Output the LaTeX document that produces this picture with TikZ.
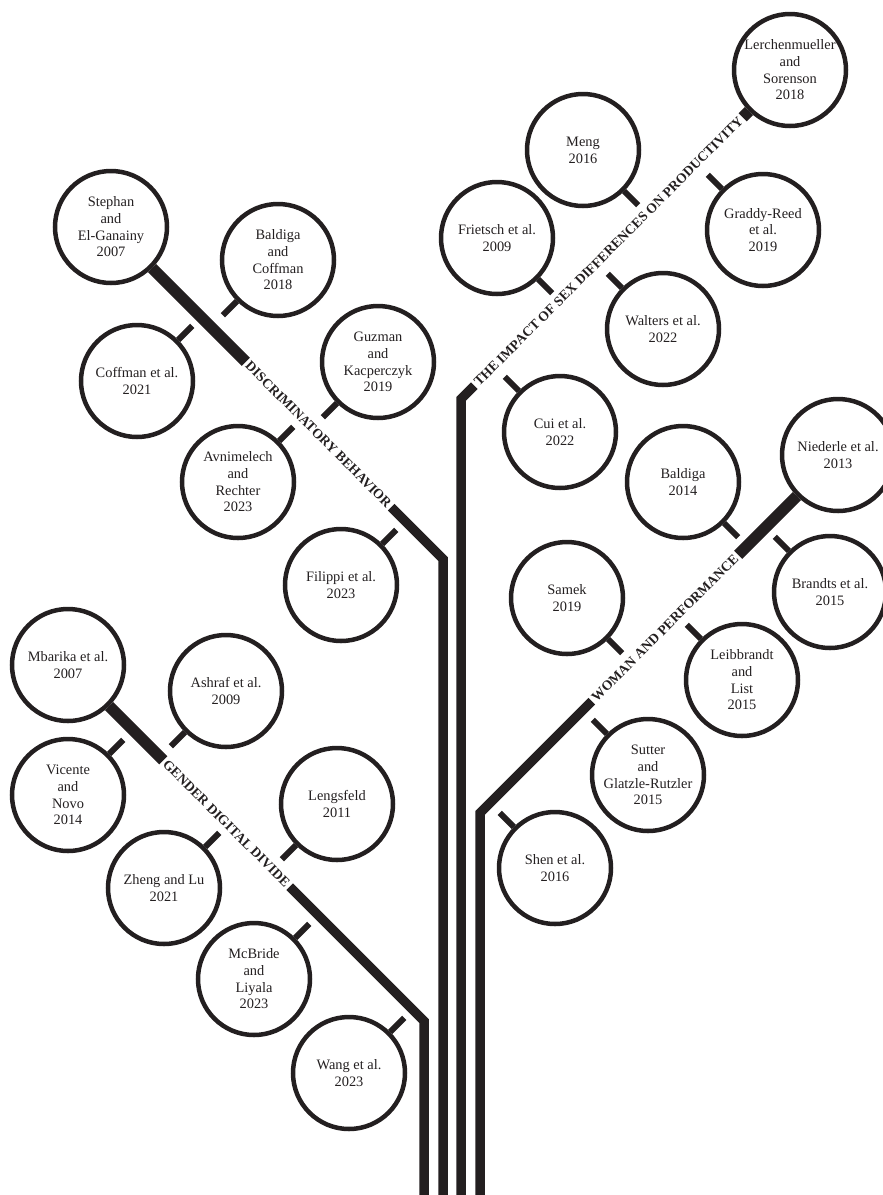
\documentclass[tikz,border=0pt]{standalone}
\usepackage{fontspec}
\setmainfont{Liberation Serif}
\definecolor{ink}{RGB}{35,31,32}
\begin{document}
\begin{tikzpicture}[x=1pt,y=-1pt,
  study/.style={circle, draw=ink, line width=4.5pt, minimum size=112pt, inner sep=0pt,
    align=center, text=ink, font=\fontsize{14.4}{16.7}\selectfont},
  stub/.style={draw=ink, line width=6pt},
  limb/.style={draw=ink, line width=11.5pt},
  trunk/.style={draw=ink, line width=9.5pt, line join=miter},
  theme/.style={font=\bfseries\fontsize{13.7}{15}\selectfont, text=ink, inner sep=2.5pt}
]
\useasboundingbox (0,0) rectangle (883,1195);
\clip (0,0) rectangle (883,1195);

% ---------- Discriminatory behavior ----------
\node[study] (stephan) at (111,227) {Stephan\\and\\El-Ganainy\\2007};
\node[study] (baldcof) at (278,260) {Baldiga\\and\\Coffman\\2018};
\node[study] (cofetal) at (137,381) {Coffman et al.\\2021};
\node[study] (guzman)  at (378,362) {Guzman\\and\\Kacperczyk\\2019};
\node[study] (avnim)   at (238,482) {Avnimelech\\and\\Rechter\\2023};
\node[study] (filippi) at (341,585) {Filippi et al.\\2023};
\node[theme, rotate=-45] (dlab) at (318.5,434.5) {DISCRIMINATORY BEHAVIOR};
\coordinate (dbend) at (443,559);
\coordinate (dfoot) at (443,1205);
\draw[limb] (stephan.south east) -- (dlab.west);
\draw[trunk] (dlab.east) -- (dbend) -- (dfoot);
\draw[stub] (baldcof.south west) -- ++(-14,14);
\draw[stub] (cofetal.north east) -- ++(14,-14);
\draw[stub] (guzman.south west) -- ++(-14,14);
\draw[stub] (avnim.north east) -- ++(14,-14);
\draw[stub] (filippi.north east) -- ++(14,-14);

% ---------- Impact of sex differences ----------
\node[study] (lerch)    at (790,70)  {Lerchenmueller\\and\\Sorenson\\2018};
\node[study] (meng)     at (583,150) {Meng\\2016};
\node[study] (frietsch) at (497,238) {Frietsch et al.\\2009};
\node[study] (graddy)   at (763,230) {Graddy-Reed\\et al.\\2019};
\node[study] (walters)  at (663,329) {Walters et al.\\2022};
\node[study] (cui)      at (560,432) {Cui et al.\\2022};
\node[theme, rotate=45] (ilab) at (608.5,251.5) {THE IMPACT OF SEX DIFFERENCES ON PRODUCTIVITY};
\coordinate (ibend) at (461,399);
\coordinate (ifoot) at (461,1205);
\draw[limb] (lerch.south west) -- (ilab.east);
\draw[trunk] (ilab.west) -- (ibend) -- (ifoot);
\draw[stub] (meng.south east) -- ++(14,14);
\draw[stub] (frietsch.south east) -- ++(14,14);
\draw[stub] (graddy.north west) -- ++(-14,-14);
\draw[stub] (walters.north west) -- ++(-14,-14);
\draw[stub] (cui.north west) -- ++(-14,-14);

% ---------- Woman and performance ----------
\node[study] (nied)    at (838,455) {Niederle et al.\\2013};
\node[study] (bald14)  at (683,482) {Baldiga\\2014};
\node[study] (brandts) at (830,592) {Brandts et al.\\2015};
\node[study] (samek)   at (567,598) {Samek\\2019};
\node[study] (leib)    at (742,680) {Leibbrandt\\and\\List\\2015};
\node[study] (sutter)  at (648,775) {Sutter\\and\\Glatzle-Rutzler\\2015};
\node[study] (shen)    at (555,868) {Shen et al.\\2016};
\node[theme, rotate=45] (wlab) at (665,628) {WOMAN AND PERFORMANCE};
\coordinate (wbend) at (480,813);
\coordinate (wfoot) at (480,1205);
\draw[limb] (nied.south west) -- (wlab.east);
\draw[trunk] (wlab.west) -- (wbend) -- (wfoot);
\draw[stub] (bald14.south east) -- ++(14,14);
\draw[stub] (samek.south east) -- ++(14,14);
\draw[stub] (brandts.north west) -- ++(-14,-14);
\draw[stub] (leib.north west) -- ++(-14,-14);
\draw[stub] (sutter.north west) -- ++(-14,-14);
\draw[stub] (shen.north west) -- ++(-14,-14);

% ---------- Gender digital divide ----------
\node[study] (mbarika) at (68,665)   {Mbarika et al.\\2007};
\node[study] (ashraf)  at (226,691)  {Ashraf et al.\\2009};
\node[study] (vicente) at (68,795)   {Vicente\\and\\Novo\\2014};
\node[study] (lengs)   at (337,804)  {Lengsfeld\\2011};
\node[study] (zheng)   at (164,888)  {Zheng and Lu\\2021};
\node[study] (mcbride) at (254,979)  {McBride\\and\\Liyala\\2023};
\node[study] (wang)    at (349,1073) {Wang et al.\\2023};
\node[theme, rotate=-45] (glab) at (226.5,823.5) {GENDER DIGITAL DIVIDE};
\coordinate (gbend) at (424,1021);
\coordinate (gfoot) at (424,1205);
\draw[limb] (mbarika.south east) -- (glab.west);
\draw[trunk] (glab.east) -- (gbend) -- (gfoot);
\draw[stub] (ashraf.south west) -- ++(-14,14);
\draw[stub] (lengs.south west) -- ++(-14,14);
\draw[stub] (vicente.north east) -- ++(14,-14);
\draw[stub] (zheng.north east) -- ++(14,-14);
\draw[stub] (mcbride.north east) -- ++(14,-14);
\draw[stub] (wang.north east) -- ++(14,-14);
\end{tikzpicture}
\end{document}
